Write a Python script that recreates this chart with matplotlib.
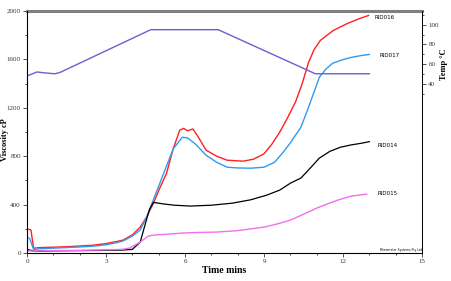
import matplotlib
matplotlib.use("Agg")
import matplotlib.pyplot as plt
from matplotlib.ticker import MultipleLocator, FixedLocator

plt.rcParams['font.family'] = ['Liberation Serif', 'DejaVu Serif']

# viscosity curves (time mins, cP)
t016 = [0, 0.15, 0.25, 0.5, 1.0, 1.5, 2.0, 2.5, 3.0, 3.4, 3.65, 4.0, 4.3, 4.55, 4.8, 5.05, 5.3, 5.55,
        5.8, 5.95, 6.1, 6.3, 6.5, 6.8, 7.2, 7.6, 8.2, 8.6, 9.0, 9.3, 9.6, 9.9, 10.2, 10.45,
        10.7, 10.9, 11.14, 11.63, 12.17, 12.6, 12.97]
v016 = [200, 190, 40, 45, 48, 52, 58, 64, 78, 95, 107, 150, 214, 300, 412, 540, 660, 860,
        1015, 1030, 1010, 1025, 960, 850, 800, 767, 759, 775, 820, 900, 1000, 1120, 1250, 1400,
        1580, 1680, 1757, 1839, 1897, 1935, 1963]

t017 = [0, 0.1, 0.25, 0.5, 1.0, 1.5, 2.0, 2.5, 3.0, 3.4, 3.65, 4.0, 4.3, 4.55, 4.8, 5.05, 5.3, 5.55,
        5.9, 6.1, 6.4, 6.8, 7.2, 7.6, 8.0, 8.5, 9.0, 9.4, 9.7, 10.0, 10.4, 10.65, 10.9, 11.1, 11.35,
        11.6, 11.95, 12.3, 12.7, 13.0]
v017 = [130, 120, 30, 35, 40, 45, 50, 56, 68, 85, 100, 140, 190, 300, 440, 580, 720, 860,
        957, 950, 900, 808, 750, 709, 703, 701, 709, 750, 825, 910, 1039, 1180, 1330, 1452, 1520,
        1567, 1595, 1616, 1632, 1641]

t014 = [0, 0.1, 0.25, 0.5, 1.0, 2.0, 3.0, 3.6, 4.0, 4.3, 4.5, 4.65, 4.8, 5.2, 5.6, 6.2, 7.0, 7.8,
        8.5, 9.1, 9.6, 10.0, 10.4, 10.75, 11.1, 11.5, 11.9, 12.3, 12.7, 13.0]
v014 = [30, 25, 15, 15, 18, 20, 22, 24, 30, 91, 247, 360, 418, 405, 395, 388, 395, 412,
        440, 478, 520, 577, 619, 700, 784, 840, 874, 893, 907, 920]

t015 = [0, 0.1, 0.25, 0.5, 1.0, 2.0, 3.0, 3.6, 3.9, 4.3, 4.6, 4.8, 5.3, 5.9, 6.5, 7.2, 8.0, 9.0,
        9.5, 10.0, 10.5, 11.0, 11.4, 11.8, 12.3, 12.9]
v015 = [20, 18, 15, 18, 20, 22, 26, 30, 41, 91, 140, 148, 155, 165, 170, 173, 185, 214,
        240, 272, 320, 371, 405, 437, 470, 487]

# temperature profile (time mins, deg C)
t_temp = [0, 0.38, 0.7, 1.06, 1.25, 4.7, 7.26, 10.95, 13.0]
temp = [48, 52, 51, 50.2, 51.5, 95, 95, 50.2, 50.2]

fig = plt.figure(figsize=(4.51, 2.81), dpi=100)
ax = fig.add_axes([0.0599, 0.0996, 0.8758, 0.8613])

ax.plot(t016, v016, color='#ff2020', lw=1.0)
ax.plot(t017, v017, color='#3399ee', lw=1.0)
ax.plot(t014, v014, color='black', lw=0.9)
ax.plot(t015, v015, color='#f070f0', lw=1.0)

ax.set_xlim(0, 15)
ax.set_ylim(0, 2000)
ax.xaxis.set_major_locator(MultipleLocator(3))
ax.xaxis.set_minor_locator(MultipleLocator(1))
ax.yaxis.set_major_locator(MultipleLocator(400))
ax.yaxis.set_minor_locator(MultipleLocator(200))
ax.tick_params(which='major', length=3, width=0.6, labelsize=5, pad=1.5, colors='#333333')
ax.tick_params(which='minor', length=1.5, width=0.5)
for s in ['left', 'bottom', 'right']:
    ax.spines[s].set_linewidth(0.7)
ax.spines['top'].set_color('#808080')
ax.spines['top'].set_linewidth(2.2)

ax.set_xlabel('Time mins', fontsize=7, fontweight='bold', labelpad=1)
ax.set_ylabel('Viscosity cP', fontsize=6, fontweight='bold')
ax.yaxis.set_label_coords(-0.045, 0.47)

ax.text(13.2, 1950, 'RID016', fontsize=4, family='DejaVu Sans', va='center')
ax.text(13.4, 1635, 'RID017', fontsize=4, family='DejaVu Sans', va='center')
ax.text(13.3, 890, 'RID014', fontsize=4, family='DejaVu Sans', va='center')
ax.text(13.3, 490, 'RID015', fontsize=4, family='DejaVu Sans', va='center')
ax.text(14.98, 12, 'Rheometer Systems Pty Ltd', fontsize=2.2, family='DejaVu Sans', ha='right', va='bottom')

ax2 = ax.twinx()
ax2.plot(t_temp, temp, color='#6a5fd0', lw=1.0)
ax2.set_ylim(-132, 114)
ax2.yaxis.set_major_locator(FixedLocator([40, 60, 80, 100]))
ax2.yaxis.set_minor_locator(FixedLocator([30, 50, 70, 90, 110]))
ax2.tick_params(which='major', length=3, width=0.6, labelsize=5, pad=1.5, colors='#333333')
ax2.tick_params(which='minor', length=1.5, width=0.5)
ax2.spines['right'].set_linewidth(0.7)
ax2.spines['top'].set_visible(False)
ax2.set_ylabel('Temp \u00b0C', fontsize=6, fontweight='bold', rotation=90)
ax2.yaxis.set_label_coords(1.045, 0.78)

fig.savefig('out.png', dpi=100)
